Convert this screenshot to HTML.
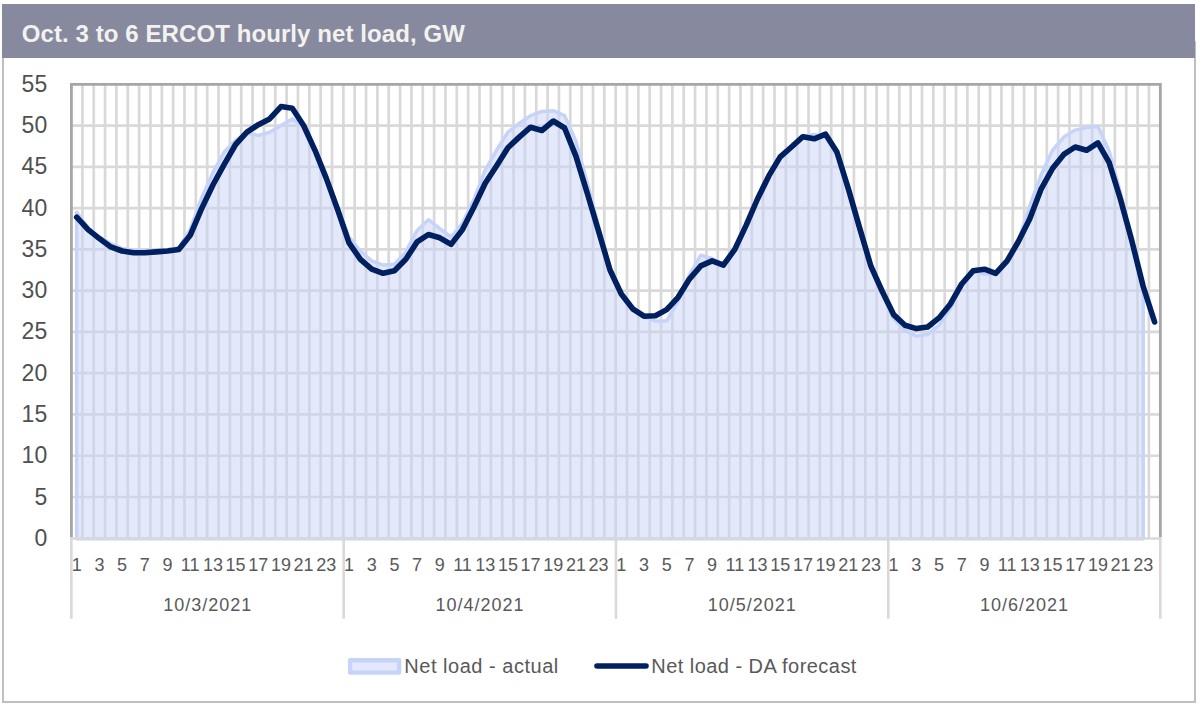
<!DOCTYPE html>
<html><head><meta charset="utf-8"><title>chart</title>
<style>
html,body{margin:0;padding:0;background:#fff;}
body{width:1203px;height:710px;position:relative;overflow:hidden;font-family:"Liberation Sans",sans-serif;color:#595959;}
.frame{position:absolute;left:1.6px;top:41px;width:1190.2px;height:660.2px;border:2.2px solid #bfbfbf;border-top:none;box-sizing:content-box;}
.title{position:absolute;left:2.2px;top:4.1px;width:1193.1px;height:53.5px;background:#878a9f;}
.title span{position:absolute;left:19.5px;top:17.6px;font-size:24px;letter-spacing:0.09px;font-weight:bold;color:#f3f2ee;white-space:nowrap;line-height:24px;}
.yl{position:absolute;left:0;width:47.2px;text-align:right;font-size:23px;line-height:24px;height:24px;color:#505050;}
.xl{position:absolute;top:553px;width:40px;margin-left:-20px;text-align:center;font-size:18px;line-height:24px;white-space:nowrap;}
.dl{position:absolute;top:593.3px;width:140px;margin-left:-69.5px;text-align:center;font-size:18px;line-height:24px;letter-spacing:1px;white-space:nowrap;}
.lg{position:absolute;top:654.2px;font-size:20px;line-height:24px;white-space:nowrap;color:#595959;letter-spacing:0.52px;}
</style></head><body>
<div class="frame"></div>
<div class="title"><span>Oct. 3 to 6 ERCOT hourly net load, GW</span></div>

<svg width="1203" height="710" viewBox="0 0 1203 710" style="position:absolute;left:0;top:0">
<path d="M82.40 84.4V538.4M93.74 84.4V538.4M105.09 84.4V538.4M116.43 84.4V538.4M127.78 84.4V538.4M139.13 84.4V538.4M150.47 84.4V538.4M161.82 84.4V538.4M173.16 84.4V538.4M184.51 84.4V538.4M195.86 84.4V538.4M207.20 84.4V538.4M218.55 84.4V538.4M229.89 84.4V538.4M241.24 84.4V538.4M252.59 84.4V538.4M263.93 84.4V538.4M275.28 84.4V538.4M286.62 84.4V538.4M297.97 84.4V538.4M309.32 84.4V538.4M320.66 84.4V538.4M332.01 84.4V538.4M343.35 84.4V538.4M354.70 84.4V538.4M366.05 84.4V538.4M377.39 84.4V538.4M388.74 84.4V538.4M400.08 84.4V538.4M411.43 84.4V538.4M422.78 84.4V538.4M434.12 84.4V538.4M445.47 84.4V538.4M456.81 84.4V538.4M468.16 84.4V538.4M479.51 84.4V538.4M490.85 84.4V538.4M502.20 84.4V538.4M513.54 84.4V538.4M524.89 84.4V538.4M536.24 84.4V538.4M547.58 84.4V538.4M558.93 84.4V538.4M570.27 84.4V538.4M581.62 84.4V538.4M592.97 84.4V538.4M604.31 84.4V538.4M615.66 84.4V538.4M627.00 84.4V538.4M638.35 84.4V538.4M649.70 84.4V538.4M661.04 84.4V538.4M672.39 84.4V538.4M683.73 84.4V538.4M695.08 84.4V538.4M706.43 84.4V538.4M717.77 84.4V538.4M729.12 84.4V538.4M740.46 84.4V538.4M751.81 84.4V538.4M763.16 84.4V538.4M774.50 84.4V538.4M785.85 84.4V538.4M797.19 84.4V538.4M808.54 84.4V538.4M819.89 84.4V538.4M831.23 84.4V538.4M842.58 84.4V538.4M853.92 84.4V538.4M865.27 84.4V538.4M876.62 84.4V538.4M887.96 84.4V538.4M899.31 84.4V538.4M910.65 84.4V538.4M922.00 84.4V538.4M933.35 84.4V538.4M944.69 84.4V538.4M956.04 84.4V538.4M967.38 84.4V538.4M978.73 84.4V538.4M990.08 84.4V538.4M1001.42 84.4V538.4M1012.77 84.4V538.4M1024.11 84.4V538.4M1035.46 84.4V538.4M1046.81 84.4V538.4M1058.15 84.4V538.4M1069.50 84.4V538.4M1080.84 84.4V538.4M1092.19 84.4V538.4M1103.54 84.4V538.4M1114.88 84.4V538.4M1126.23 84.4V538.4M1137.57 84.4V538.4M1148.92 84.4V538.4M71.4 497.02H1160.3M71.4 455.75H1160.3M71.4 414.47H1160.3M71.4 373.20H1160.3M71.4 331.92H1160.3M71.4 290.65H1160.3M71.4 249.37H1160.3M71.4 208.10H1160.3M71.4 166.82H1160.3M71.4 125.55H1160.3" stroke="#d9d9d9" stroke-width="2.7" fill="none"/>
<path d="M71.35 538.4V618.8M343.65 538.4V618.8M615.96 538.4V618.8M888.26 538.4V618.8M1160.27 538.4V618.8" stroke="#d9d9d9" stroke-width="2.6" fill="none"/>
<path d="M76.7,538.8 L76.7,212.2 L88.1,227.9 L99.4,237.0 L110.8,243.6 L122.1,248.5 L133.5,250.2 L144.8,250.6 L156.1,250.2 L167.5,249.4 L178.8,247.7 L190.2,229.6 L201.5,198.2 L212.9,172.6 L224.2,152.0 L235.6,140.4 L246.9,133.0 L258.3,135.5 L269.6,132.2 L281.0,125.5 L292.3,118.9 L303.6,127.2 L315.0,150.3 L326.3,177.6 L337.7,208.9 L349.0,237.0 L360.4,251.0 L371.7,260.9 L383.1,265.1 L394.4,264.2 L405.8,251.9 L417.1,230.4 L428.4,219.7 L439.8,228.7 L451.1,237.0 L462.5,223.0 L473.8,199.8 L485.2,170.1 L496.5,150.3 L507.9,132.2 L519.2,123.5 L530.6,115.6 L541.9,111.5 L553.3,110.7 L564.6,115.6 L575.9,141.2 L587.3,183.3 L598.6,226.3 L610.0,268.4 L621.3,294.8 L632.7,309.6 L644.0,317.1 L655.4,321.2 L666.7,320.8 L678.1,301.4 L689.4,275.0 L700.8,255.2 L712.1,258.5 L723.4,264.2 L734.8,247.7 L746.1,224.6 L757.5,197.4 L768.8,174.3 L780.2,156.1 L791.5,145.4 L802.9,136.3 L814.2,134.6 L825.6,136.3 L836.9,155.3 L848.3,189.1 L859.6,227.9 L870.9,267.5 L882.3,294.0 L893.6,318.7 L905.0,330.3 L916.3,336.1 L927.7,334.4 L939.0,325.3 L950.4,308.8 L961.7,284.9 L973.1,271.7 L984.4,274.1 L995.7,274.1 L1007.1,263.4 L1018.4,241.1 L1029.8,205.6 L1041.1,175.1 L1052.5,150.3 L1063.8,137.1 L1075.2,130.1 L1086.5,127.6 L1097.9,126.4 L1109.2,151.1 L1120.6,193.2 L1131.9,242.8 L1143.2,289.0 L1143.2,538.8 Z" fill="#c8d3f8" fill-opacity="0.5" stroke="#c6d4fa" stroke-width="3.5" stroke-linejoin="round"/>
<path d="M70.4 538.5H1161.4" stroke="#d9d9d9" stroke-width="2.7" fill="none"/>
<path d="M71.4 537.2V84.45H1160.35V537.2" stroke="#a6a6a6" stroke-width="2.8" fill="none"/>
<polyline points="76.7,217.2 88.1,229.6 99.4,238.6 110.8,246.9 122.1,251.0 133.5,252.7 144.8,252.7 156.1,251.9 167.5,251.0 178.8,249.4 190.2,235.3 201.5,208.9 212.9,185.0 224.2,164.3 235.6,144.5 246.9,132.2 258.3,124.7 269.6,118.9 281.0,106.6 292.3,108.2 303.6,125.5 315.0,150.3 326.3,178.4 337.7,209.8 349.0,242.8 360.4,259.3 371.7,269.2 383.1,273.3 394.4,270.8 405.8,259.3 417.1,241.9 428.4,234.5 439.8,237.8 451.1,244.4 462.5,229.6 473.8,207.3 485.2,183.3 496.5,166.0 507.9,147.8 519.2,137.1 530.6,127.2 541.9,130.5 553.3,121.0 564.6,128.0 575.9,156.1 587.3,193.2 598.6,231.2 610.0,270.0 621.3,294.0 632.7,308.8 644.0,316.2 655.4,315.8 666.7,309.6 678.1,297.3 689.4,279.1 700.8,265.9 712.1,260.9 723.4,265.1 734.8,249.4 746.1,225.4 757.5,199.0 768.8,175.9 780.2,156.9 791.5,147.0 802.9,136.7 814.2,138.8 825.6,134.2 836.9,152.0 848.3,188.7 859.6,227.9 870.9,266.2 882.3,291.5 893.6,314.6 905.0,325.3 916.3,328.6 927.7,327.0 939.0,317.9 950.4,303.9 961.7,284.0 973.1,270.8 984.4,269.2 995.7,273.3 1007.1,260.9 1018.4,241.5 1029.8,218.8 1041.1,189.1 1052.5,168.5 1063.8,154.4 1075.2,147.0 1086.5,150.3 1097.9,142.9 1109.2,162.7 1120.6,199.8 1131.9,241.1 1143.2,286.5 1154.6,322.0" fill="none" stroke="#002060" stroke-width="5.6" stroke-linejoin="round" stroke-linecap="round"/>
<rect x="350.1" y="660.2" width="49" height="12.4" fill="#e3e8fc" stroke="#c6d4fa" stroke-width="4.4" stroke-linejoin="round"/>
<path d="M597 666H646" stroke="#002060" stroke-width="5.6" stroke-linecap="round"/>
</svg>
<div class="yl" style="top:525.8px">0</div>
<div class="yl" style="top:484.5px">5</div>
<div class="yl" style="top:443.2px">10</div>
<div class="yl" style="top:402.0px">15</div>
<div class="yl" style="top:360.7px">20</div>
<div class="yl" style="top:319.4px">25</div>
<div class="yl" style="top:278.1px">30</div>
<div class="yl" style="top:236.9px">35</div>
<div class="yl" style="top:195.6px">40</div>
<div class="yl" style="top:154.3px">45</div>
<div class="yl" style="top:113.0px">50</div>
<div class="yl" style="top:71.8px">55</div>
<div class="xl" style="left:76.7px">1</div>
<div class="xl" style="left:99.4px">3</div>
<div class="xl" style="left:122.1px">5</div>
<div class="xl" style="left:144.8px">7</div>
<div class="xl" style="left:167.5px">9</div>
<div class="xl" style="left:190.2px">11</div>
<div class="xl" style="left:212.9px">13</div>
<div class="xl" style="left:235.6px">15</div>
<div class="xl" style="left:258.3px">17</div>
<div class="xl" style="left:281.0px">19</div>
<div class="xl" style="left:303.6px">21</div>
<div class="xl" style="left:326.3px">23</div>
<div class="dl" style="left:207.2px">10/3/2021</div>
<div class="xl" style="left:349.0px">1</div>
<div class="xl" style="left:371.7px">3</div>
<div class="xl" style="left:394.4px">5</div>
<div class="xl" style="left:417.1px">7</div>
<div class="xl" style="left:439.8px">9</div>
<div class="xl" style="left:462.5px">11</div>
<div class="xl" style="left:485.2px">13</div>
<div class="xl" style="left:507.9px">15</div>
<div class="xl" style="left:530.6px">17</div>
<div class="xl" style="left:553.3px">19</div>
<div class="xl" style="left:575.9px">21</div>
<div class="xl" style="left:598.6px">23</div>
<div class="dl" style="left:479.5px">10/4/2021</div>
<div class="xl" style="left:621.3px">1</div>
<div class="xl" style="left:644.0px">3</div>
<div class="xl" style="left:666.7px">5</div>
<div class="xl" style="left:689.4px">7</div>
<div class="xl" style="left:712.1px">9</div>
<div class="xl" style="left:734.8px">11</div>
<div class="xl" style="left:757.5px">13</div>
<div class="xl" style="left:780.2px">15</div>
<div class="xl" style="left:802.9px">17</div>
<div class="xl" style="left:825.6px">19</div>
<div class="xl" style="left:848.3px">21</div>
<div class="xl" style="left:870.9px">23</div>
<div class="dl" style="left:751.8px">10/5/2021</div>
<div class="xl" style="left:893.6px">1</div>
<div class="xl" style="left:916.3px">3</div>
<div class="xl" style="left:939.0px">5</div>
<div class="xl" style="left:961.7px">7</div>
<div class="xl" style="left:984.4px">9</div>
<div class="xl" style="left:1007.1px">11</div>
<div class="xl" style="left:1029.8px">13</div>
<div class="xl" style="left:1052.5px">15</div>
<div class="xl" style="left:1075.2px">17</div>
<div class="xl" style="left:1097.9px">19</div>
<div class="xl" style="left:1120.6px">21</div>
<div class="xl" style="left:1143.2px">23</div>
<div class="dl" style="left:1024.1px">10/6/2021</div>
<div class="lg" style="left:404.3px">Net load - actual</div>
<div class="lg" style="left:651.3px;letter-spacing:0.45px">Net load - DA forecast</div>
</body></html>
